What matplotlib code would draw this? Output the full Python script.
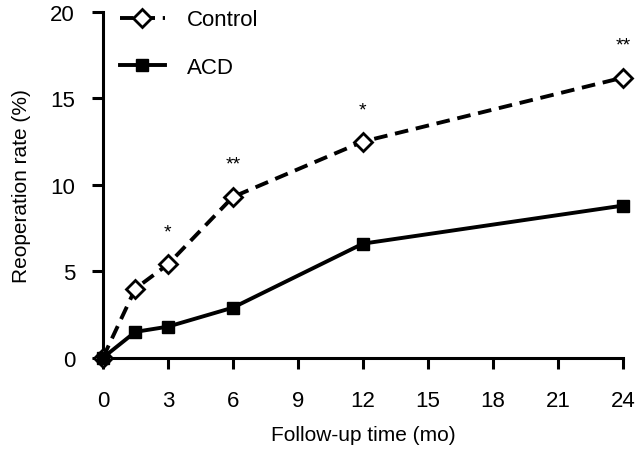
import matplotlib.pyplot as plt

plt.rcParams['font.family'] = ['Liberation Sans', 'DejaVu Sans']

# datos
months = [0, 1.5, 3, 6, 12, 24]
control = [0, 4.0, 5.4, 9.3, 12.5, 16.2]
acd = [0, 1.5, 1.8, 2.9, 6.6, 8.8]

# asteriscos de significación
star_x = [3, 6, 12, 24]
star_y = [7.3, 11.2, 14.3, 18.1]
star_txt = ['*', '**', '*', '**']

x_ticks = [0, 3, 6, 9, 12, 15, 18, 21, 24]
y_ticks = [0, 5, 10, 15, 20]

fig = plt.figure(figsize=(6.35, 4.6), dpi=100)
ax = fig.add_axes([0.162, 0.22, 0.819, 0.752])

ax.plot(months, control, color='black', lw=2.8, ls=(0, (3.5, 2)),
        marker='D', ms=9, mfc='white', mec='black', mew=2,
        label='Control', clip_on=False, zorder=3)
ax.plot(months, acd, color='black', lw=2.8, ls='-',
        marker='s', ms=9, mfc='black', mec='black',
        label='ACD', clip_on=False, zorder=3)

for x, y, t in zip(star_x, star_y, star_txt):
    ax.text(x, y, t, ha='center', va='center', fontsize=14)

ax.set_xlim(0, 24)
ax.set_ylim(0, 20)
ax.set_xticks(x_ticks)
ax.set_yticks(y_ticks)

for s in ['top', 'right']:
    ax.spines[s].set_visible(False)
for s in ['left', 'bottom']:
    ax.spines[s].set_linewidth(2.2)

ax.tick_params(axis='both', direction='out', length=8, width=2.2,
               labelsize=16)
ax.tick_params(axis='x', pad=15)
ax.tick_params(axis='y', pad=12)

ax.set_xlabel('Follow-up time (mo)', fontsize=15, labelpad=10)
ax.set_ylabel('Reoperation rate (%)', fontsize=15, labelpad=14)

ax.legend(loc='upper left', bbox_to_anchor=(-0.005, 1.065), frameon=False,
          fontsize=16, handlelength=2.0, labelspacing=1.2, handletextpad=1.0)

fig.savefig('out.png', dpi=100)
